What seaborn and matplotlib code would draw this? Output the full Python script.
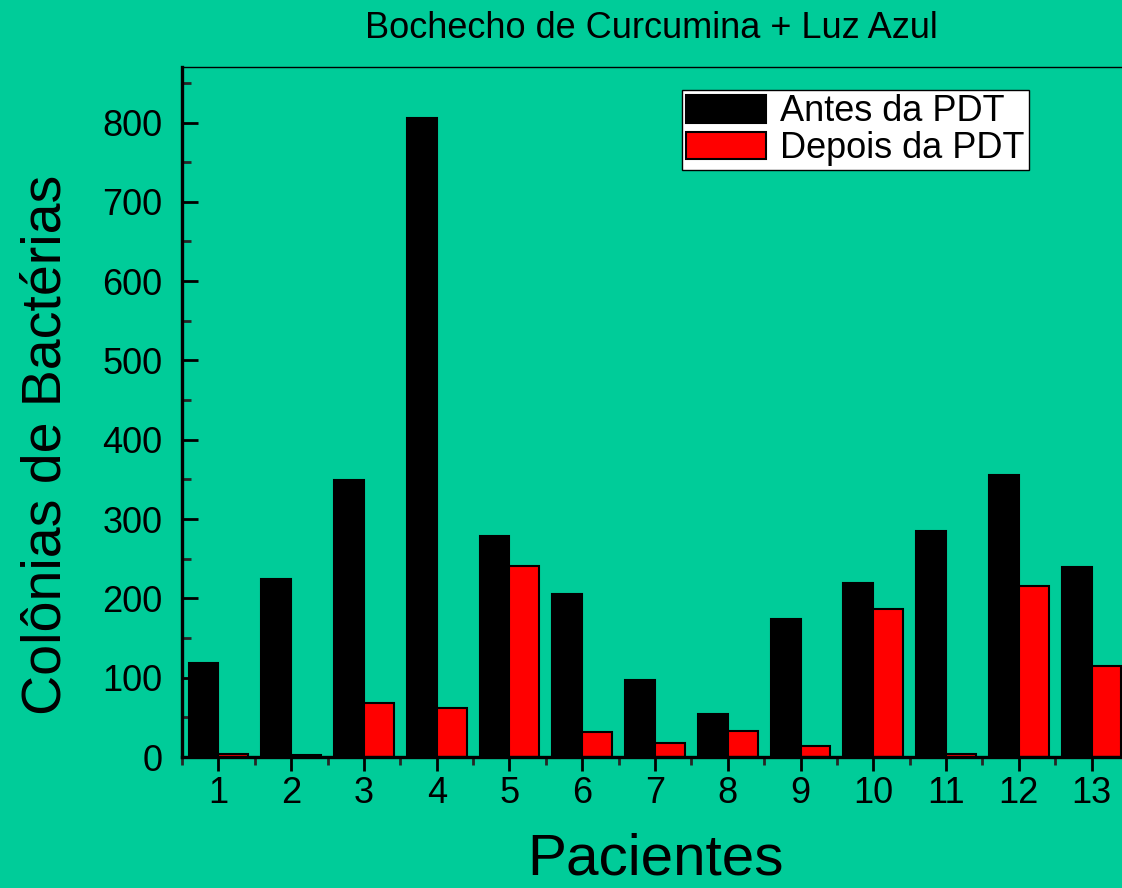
import matplotlib
matplotlib.use("Agg")
import matplotlib.pyplot as plt
from matplotlib.patches import Patch
from matplotlib.ticker import MultipleLocator, FixedLocator
import seaborn as sns
import pandas as pd

# Bacterial colony counts per patient, before and after PDT
patients = [str(i) for i in range(1, 14)]
antes = [118, 224, 349, 806, 279, 206, 97, 54, 174, 220, 285, 355, 239]
depois = [4, 3, 68, 62, 241, 31, 18, 33, 14, 186, 4, 216, 115]
series_names = ["Antes da PDT", "Depois da PDT"]
series_colors = ["black", "red"]

df = pd.DataFrame({
    "Paciente": patients * 2,
    "Colonias": antes + depois,
    "Grupo": [series_names[0]] * len(patients) + [series_names[1]] * len(patients),
})

bg = "#00CC99"
sns.set_style("ticks")
plt.rcParams["font.family"] = ["Liberation Sans", "DejaVu Sans"]

fig = plt.figure(figsize=(11.22, 8.88), dpi=100, facecolor=bg)
ax = fig.add_axes([182 / 1122, 131 / 888, 946 / 1122, 690 / 888])
ax.set_facecolor(bg)

sns.barplot(
    data=df, x="Paciente", y="Colonias", hue="Grupo",
    order=patients, hue_order=series_names,
    palette=dict(zip(series_names, series_colors)),
    width=0.82, gap=0, edgecolor="black", linewidth=1.5,
    saturation=1, legend=False, ax=ax,
)

ax.set_xlim(-0.5, len(patients) - 0.5)
ax.set_ylim(0, 870)

# Spines
ax.spines["left"].set_linewidth(2.4)
ax.spines["bottom"].set_linewidth(2.4)
ax.spines["top"].set_linewidth(1.0)
ax.spines["right"].set_visible(False)
for s in ax.spines.values():
    s.set_color("black")

# Y ticks: inward, major every 100, minor every 50
ax.yaxis.set_major_locator(MultipleLocator(100))
ax.yaxis.set_minor_locator(MultipleLocator(50))
ax.tick_params(axis="y", which="major", direction="in", length=11.5, width=2.0,
               labelsize=26, pad=14, colors="black")
ax.tick_params(axis="y", which="minor", direction="in", length=6.5, width=2.0)

# X ticks: outward, minor ticks between patients
ax.xaxis.set_minor_locator(FixedLocator([i - 0.5 for i in range(len(patients) + 1)]))
ax.tick_params(axis="x", which="major", direction="out", length=10, width=2.0,
               labelsize=26, pad=4, colors="black")
ax.tick_params(axis="x", which="minor", direction="out", length=5.5, width=2.0)

ax.set_xlabel("Pacientes", fontsize=42, labelpad=15, color="black")
ax.set_ylabel("Colônias de Bactérias", fontsize=40, color="black",
              va="center", ha="center")
ax.yaxis.set_label_coords(-0.143, 0.452)

fig.text(651.5 / 1122, 1 - 38 / 888, "Bochecho de Curcumina + Luz Azul",
         fontsize=26, ha="center", va="baseline", color="black")

handles = [Patch(facecolor=c, edgecolor="black", linewidth=1.5) for c in series_colors]
leg = ax.legend(
    handles, series_names, loc="upper left",
    bbox_to_anchor=(682 / 1122, 1 - 90 / 888), bbox_transform=fig.transFigure,
    fontsize=26, frameon=True, fancybox=False, framealpha=1,
    edgecolor="black", facecolor="white",
    handlelength=2.2, handleheight=0.8, handletextpad=0.4,
    labelspacing=0.05, borderpad=0.12, borderaxespad=0,
)
leg.get_frame().set_linewidth(1.0)
for t in leg.get_texts():
    t.set_color("black")

fig.savefig("out.png", dpi=100, facecolor=bg)
